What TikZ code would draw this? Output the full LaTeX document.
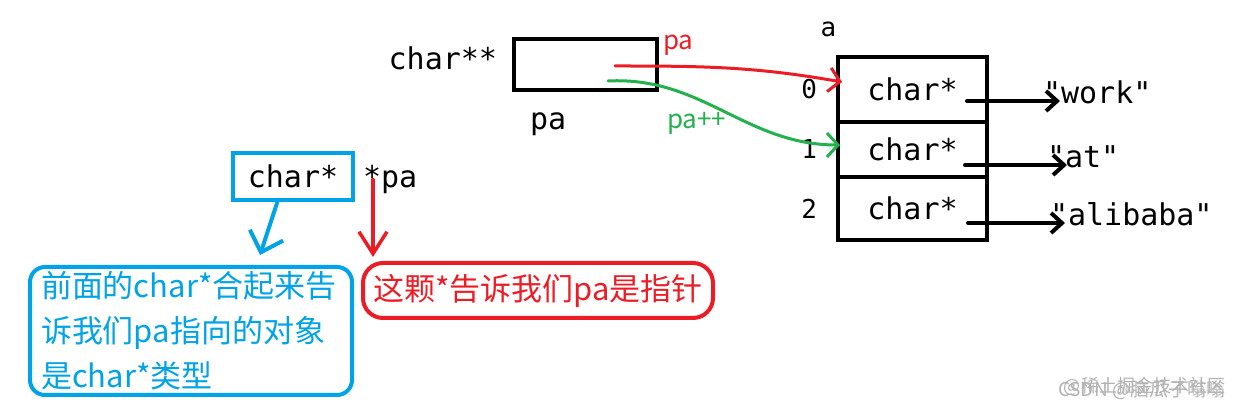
\documentclass[tikz,border=0pt]{standalone}
\usepackage{fontspec}
\setmonofont{DejaVu Sans Mono}
\newfontfamily\cjk{Noto Sans CJK SC}
\usepackage{tikz}
\usetikzlibrary{arrows.meta, positioning}
\usepackage{xcolor}
\definecolor{paintred}{RGB}{237,28,36}
\definecolor{paintblue}{RGB}{0,162,232}
\definecolor{paintgreen}{RGB}{34,177,76}

\begin{document}
\begin{tikzpicture}[
    x=1pt, y=1pt,
    every node/.style={inner sep=0pt, outer sep=0pt, align=center},
    code/.style={font=\ttfamily\fontsize{30}{36}\selectfont},
    small/.style={font=\ttfamily\fontsize{26}{30}\selectfont},
    note/.style={font=\cjk\fontsize{31}{45}\selectfont, line width=4pt},
    tag/.style={font=\cjk\fontsize{26}{30}\selectfont, anchor=base west},
    cell/.style={draw, line width=4pt, minimum width=149pt, code},
    arrow/.style={-{Straight Barb[length=11pt, width=20pt]}, line width=4pt, line cap=round, line join=round}
]
\useasboundingbox (0,0) rectangle (1240,411);

% Nodes
\node[draw, line width=4pt, minimum width=143pt, minimum height=51pt] (ptr) at (585.5,346.5) {};
\node[code, anchor=base east] (ptrtype) at (497,341) {char**};
\node[code, anchor=base west] (ptrname) at (530,281) {pa};

\node[cell, minimum height=65pt] (c0) at (912.5,321.5) {char*};
\node[cell, minimum height=55pt, below=0pt of c0] (c1) {char*};
\node[cell, minimum height=63pt, below=0pt of c1] (c2) {char*};
\node[small, left=21pt of c0] (i0) {0};
\node[small, left=21pt of c1] (i1) {1};
\node[small, left=21pt of c2] (i2) {2};
\node[small, anchor=base] (aname) at (828.5,374) {a};

\node[code, anchor=base west] (s0) at (1043,307) {"work"};
\node[code, anchor=base west] (s1) at (1047,243) {"at"};
\node[code, anchor=base west] (s2) at (1050,185) {"alibaba"};

\node[code, draw=paintblue, line width=4pt, minimum width=120pt, minimum height=47pt] (tbox) at (293,234.5) {char*};
\node[code, anchor=base west] (star) at ([xshift=10pt]tbox.base east) {*pa};

\node[note, draw=paintblue, text=paintblue, rounded corners=15pt, minimum width=322pt, minimum height=128pt,
      text width=300pt, align=left] (tnote) at (191,80) {前面的char*合起来告\\诉我们pa指向的对象\\是char*类型};
\node[note, draw=paintred, text=paintred, rounded corners=20pt, minimum width=350pt, minimum height=55pt]
      (pnote) at (538,120.5) {这颗*告诉我们pa是指针};

\coordinate (rstart) at (615,345);
\coordinate (gstart) at (608,330);

% Arrows
\draw[arrow, paintred, line width=3pt, -{Straight Barb[length=11pt, width=24pt]}]
    (rstart) to[out=0, in=170] ([xshift=4pt, yshift=7.5pt]c0.west);
\draw[arrow, paintgreen, line width=3pt, -{Straight Barb[length=11pt, width=24pt]}]
    (gstart) to[out=3, in=180] ([xshift=2pt, yshift=4.5pt]c1.west);
\node[tag, text=paintred] (plabel) at (663,361) {pa};
\node[tag, text=paintgreen] (pplabel) at (667,282) {pa++};

\draw[arrow] ([xshift=-20pt, yshift=-11.5pt]c0.east) -- ([xshift=17pt, yshift=3pt]s0.base west);
\draw[arrow] ([xshift=-22pt, yshift=-15.5pt]c1.east) -- ([xshift=20pt, yshift=3pt]s1.base west);
\draw[arrow] ([xshift=-19pt, yshift=-14.5pt]c2.east) -- ([xshift=15pt, yshift=3pt]s2.base west);

\draw[arrow, paintblue, -{Straight Barb[length=18pt, width=35pt]}]
    ([xshift=-15pt]tbox.south) -- ([xshift=69pt, yshift=12pt]tnote.north);
\draw[arrow, paintred, line width=3.5pt, -{Straight Barb[length=22pt, width=28pt]}]
    ([xshift=10pt, yshift=8pt]star.base west) -- ([xshift=-165pt, yshift=6pt]pnote.north);

% watermark
\node[font=\cjk\fontsize{18}{20}\selectfont, text=black!30, anchor=east] (wm1) at (1225,25) {@稀土掘金技术社区};
\node[font=\cjk\fontsize{19}{20}\selectfont, text=black!30, anchor=east] (wm2) at (1225,21) {CSDN @脑瓜子嗡嗡};

\end{tikzpicture}
\end{document}
